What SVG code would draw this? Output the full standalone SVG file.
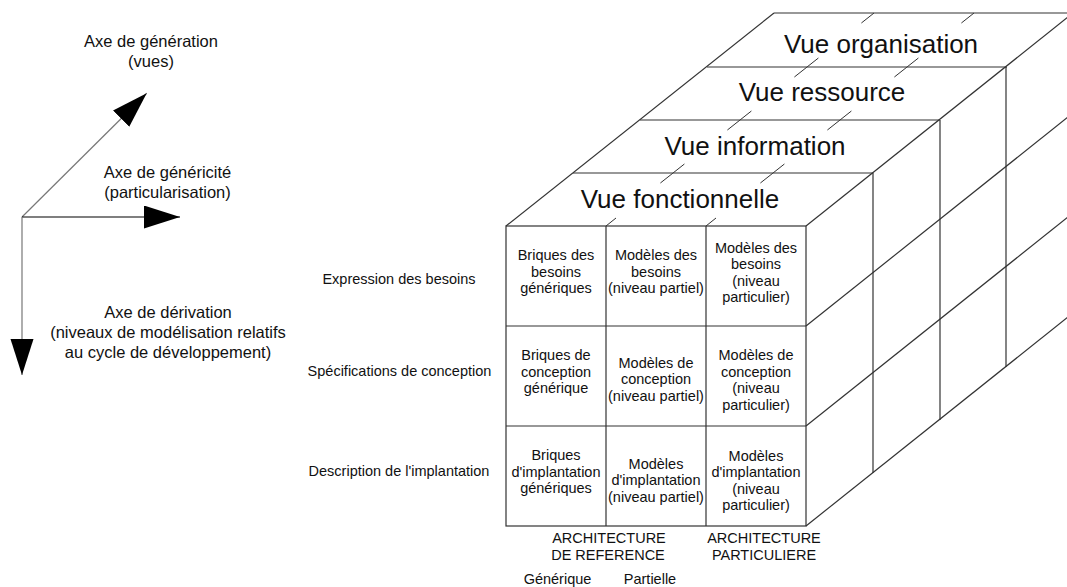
<svg xmlns="http://www.w3.org/2000/svg" width="1067" height="587" viewBox="0 0 1067 587">
<style>
text{font-family:"Liberation Sans",Arial,sans-serif;fill:#111;text-anchor:middle}
.ax{font-size:16.5px}
.vue{font-size:26px}
.c{font-size:14.5px}
.ln{stroke:#333;stroke-width:1.2;fill:none}
.tk{stroke:#333;stroke-width:1;fill:none}
.arr{fill:none;stroke-width:1.2}
</style>
<defs>
<marker id="ah" markerUnits="userSpaceOnUse" markerWidth="36" markerHeight="24" refX="36" refY="11.5" orient="auto">
<path d="M0,0 L36,11.5 L0,23 Z" fill="#000"/>
</marker>
</defs>

<g id="connectors">
<line class="arr" x1="22" y1="217" x2="146.7" y2="93.3" stroke="#777" marker-end="url(#ah)"/>
<line class="arr" x1="22" y1="217" x2="180" y2="217" stroke="#000" marker-end="url(#ah)"/>
<line class="arr" x1="22" y1="217" x2="22" y2="375" stroke="#777" marker-end="url(#ah)"/>
</g>

<g id="axis-generation">
<text class="ax" x="151" y="47">Axe de génération</text>
<text class="ax" x="151" y="67">(vues)</text>
</g>
<g id="axis-genericite">
<text class="ax" x="167.5" y="178">Axe de généricité</text>
<text class="ax" x="167.5" y="198">(particularisation)</text>
</g>
<g id="axis-derivation">
<text class="ax" x="168" y="318">Axe de dérivation</text>
<text class="ax" x="168" y="338">(niveaux de modélisation relatifs</text>
<text class="ax" x="168" y="358">au cycle de développement)</text>
</g>

<g id="cube">
<!-- top face -->
<line class="ln" x1="506" y1="226" x2="774" y2="13"/>
<line class="ln" x1="774" y1="13" x2="1074" y2="13"/>
<line class="ln" x1="573" y1="173" x2="873" y2="173"/>
<line class="ln" x1="640" y1="120" x2="940" y2="120"/>
<line class="ln" x1="707" y1="67" x2="1007" y2="67"/>
<!-- right face -->
<line class="ln" x1="806" y1="226" x2="1073" y2="13"/>
<line class="ln" x1="806" y1="326" x2="1073" y2="113"/>
<line class="ln" x1="806" y1="426" x2="1073" y2="213"/>
<line class="ln" x1="806" y1="526" x2="1073" y2="313"/>
<line class="ln" x1="873" y1="173" x2="873" y2="473"/>
<line class="ln" x1="940" y1="120" x2="940" y2="420"/>
<line class="ln" x1="1006" y1="67" x2="1006" y2="367"/>
<!-- ticks (column dividers on top face) -->
<path class="tk" d="M606,226 l10,-8 M706,226 l10,-8
M660.4,183 l24,-19 M760.4,183 l24,-19
M727.4,130 l24,-19 M827.4,130 l24,-19
M794.4,77 l24,-19 M894.4,77 l24,-19
M861.4,23 l12.6,-10 M961.4,23 l12.6,-10"/>
<!-- front face -->
<rect class="ln" x="506" y="226" width="300" height="300"/>
<line class="ln" x1="606" y1="226" x2="606" y2="526"/>
<line class="ln" x1="706" y1="226" x2="706" y2="526"/>
<line class="ln" x1="506" y1="326" x2="806" y2="326"/>
<line class="ln" x1="506" y1="426" x2="806" y2="426"/>
</g>

<g id="vue-organisation"><text class="vue" x="881" y="53">Vue organisation</text></g>
<g id="vue-ressource"><text class="vue" x="822" y="101">Vue ressource</text></g>
<g id="vue-information"><text class="vue" x="755" y="155">Vue information</text></g>
<g id="vue-fonctionnelle"><text class="vue" x="680" y="208">Vue fonctionnelle</text></g>

<g id="row-expression"><text class="c" x="399" y="284">Expression des besoins</text></g>
<g id="row-specifications"><text class="c" x="399.5" y="376">Spécifications de conception</text></g>
<g id="row-description"><text class="c" x="399" y="476">Description de l'implantation</text></g>

<g id="cell-1-1"><text class="c" x="556" y="260">Briques des</text><text class="c" x="556" y="276.5">besoins</text><text class="c" x="556" y="293">génériques</text></g>
<g id="cell-1-2"><text class="c" x="656" y="260">Modèles des</text><text class="c" x="656" y="276.5">besoins</text><text class="c" x="656" y="293">(niveau partiel)</text></g>
<g id="cell-1-3"><text class="c" x="756" y="252.5">Modèles des</text><text class="c" x="756" y="269">besoins</text><text class="c" x="756" y="285.5">(niveau</text><text class="c" x="756" y="302">particulier)</text></g>

<g id="cell-2-1"><text class="c" x="556" y="360">Briques de</text><text class="c" x="556" y="376.5">conception</text><text class="c" x="556" y="393">générique</text></g>
<g id="cell-2-2"><text class="c" x="656" y="367.5">Modèles de</text><text class="c" x="656" y="384">conception</text><text class="c" x="656" y="400.5">(niveau partiel)</text></g>
<g id="cell-2-3"><text class="c" x="756" y="360">Modèles de</text><text class="c" x="756" y="376.5">conception</text><text class="c" x="756" y="393">(niveau</text><text class="c" x="756" y="409.5">particulier)</text></g>

<g id="cell-3-1"><text class="c" x="556" y="459.5">Briques</text><text class="c" x="556" y="476.5">d'implantation</text><text class="c" x="556" y="493">génériques</text></g>
<g id="cell-3-2"><text class="c" x="656" y="468.5">Modèles</text><text class="c" x="656" y="485">d'implantation</text><text class="c" x="656" y="501.5">(niveau partiel)</text></g>
<g id="cell-3-3"><text class="c" x="756" y="460.5">Modèles</text><text class="c" x="756" y="477">d'implantation</text><text class="c" x="756" y="493.5">(niveau</text><text class="c" x="756" y="510">particulier)</text></g>

<g id="arch-reference"><text class="c" x="609" y="543">ARCHITECTURE</text><text class="c" x="608" y="559.5">DE REFERENCE</text></g>
<g id="arch-particuliere"><text class="c" x="764" y="543">ARCHITECTURE</text><text class="c" x="764" y="559.5">PARTICULIERE</text></g>
<g id="col-generique"><text class="c" x="557.5" y="584">Générique</text></g>
<g id="col-partielle"><text class="c" x="650" y="584">Partielle</text></g>
</svg>
